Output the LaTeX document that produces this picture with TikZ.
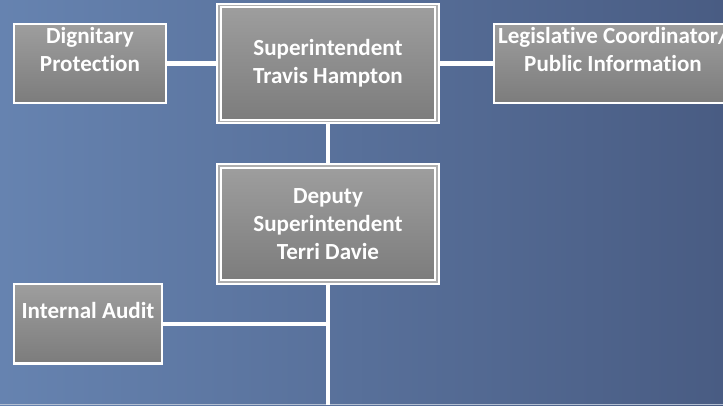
\documentclass[tikz,border=0pt]{standalone}
\usepackage{fontspec}
\setmainfont{Carlito}[Ligatures=NoCommon]
\usepackage{xcolor}
\usepackage{tikz}

\definecolor{bgleft}{RGB}{102,131,176}
\definecolor{bgright}{RGB}{73,92,131}
\definecolor{bgedge}{RGB}{178,190,210}
\definecolor{boxtop}{RGB}{158,158,158}
\definecolor{boxbottom}{RGB}{124,124,124}
\definecolor{boxgap}{RGB}{175,175,175}

\begin{document}
\begin{tikzpicture}[x=0.75pt, y=-0.75pt,
        unit/.style={draw=white, line width=1.6pt, top color=boxtop, bottom color=boxbottom,
            text=white, align=center, inner sep=0pt,
            font=\bfseries\fontsize{17.3}{20.8}\selectfont},
        head/.style={unit, line width=1.3pt, double=boxgap, double distance=1.2pt,
            minimum width=163.5pt, minimum height=87pt},
        side/.style={unit, minimum height=59.5pt},
        link/.style={draw=white, line width=3.4pt}]

        % slide background
        \useasboundingbox (0,0) rectangle (723,405);
        \fill[left color=bgleft, right color=bgright] (0,0) rectangle (723,405);
        \fill[bgedge] (0,403.5) rectangle (723,405);

        \node[side, minimum width=113.5pt] (dignitary) at (90,63.5)  {Dignitary\\Protection\\\mbox{}};
        \node[head] (superintendent) at (328,63.5) {Superintendent\\Travis Hampton};
        \node[side, minimum width=178.5pt] (legislative) at (613,63.5) {Legislative Coordinator/\\Public Information\\\mbox{}};
        \node[head] (deputy) at (328,224) {Deputy\\Superintendent\\Terri Davie};
        \node[side, minimum width=110.5pt] (audit) at (88,323.8) {Internal Audit\\\mbox{}};

        \coordinate (spine) at (328,323.8);
        \coordinate (bottom) at (328,405);

        \draw[link] (dignitary) -- (superintendent);
        \draw[link] (superintendent) -- (legislative);
        \draw[link] (superintendent) -- (deputy);
        \draw[link] (deputy) -- (bottom);
        \draw[link] (audit) -- (spine);
    \end{tikzpicture}
\end{document}
